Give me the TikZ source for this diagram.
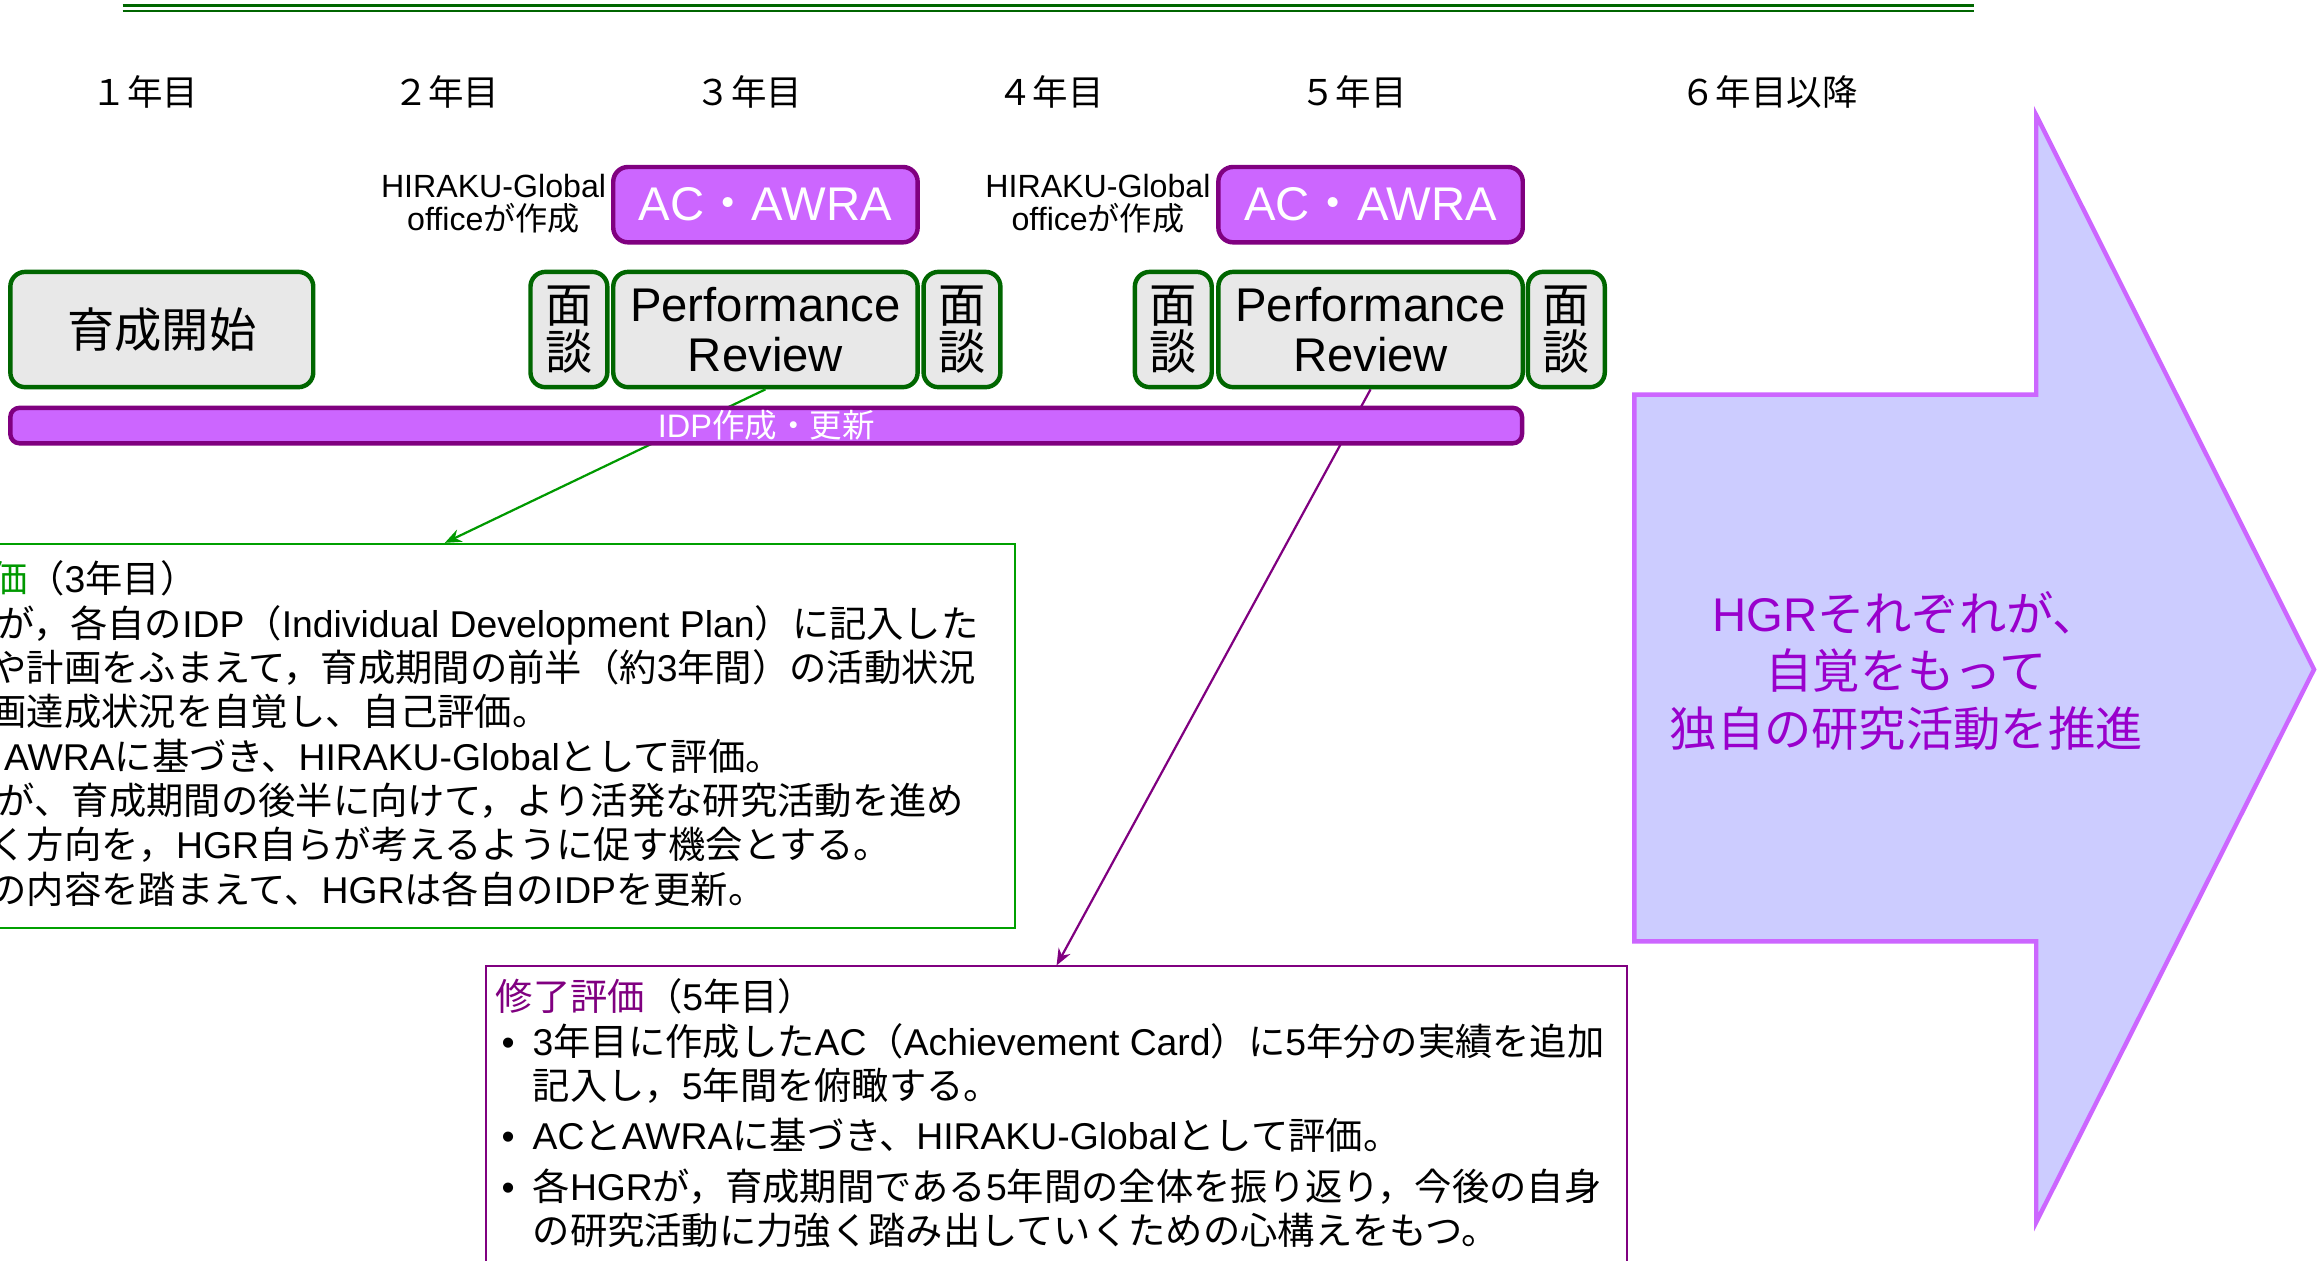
\documentclass[tikz,border=0pt]{standalone}
\usepackage{fontspec}
\setmainfont{Noto Sans CJK JP}
\newfontfamily\arfont{Liberation Sans}
\newcommand\ar[1]{{\arfont #1}}
\usetikzlibrary{arrows.meta}
\definecolor{dgreen}{HTML}{006600}
\definecolor{lgreen}{HTML}{00A000}
\definecolor{hgreen}{HTML}{009900}
\definecolor{vfill}{HTML}{CC66FF}
\definecolor{pborder}{HTML}{800080}
\definecolor{grayfill}{HTML}{E8E8E8}
\definecolor{arrfill}{HTML}{CCCCFF}
\definecolor{arrtext}{HTML}{9900CC}
\newcommand\bul{\makebox[10bp][l]{\hspace*{1.6bp}\ar{•}}}
\newcommand\ind{\hspace*{10bp}}
\begin{document}
\begin{tikzpicture}[x=0.4bp,y=-0.4bp,
  gbox/.style={draw=dgreen,line width=1.2bp,fill=grayfill,rounded corners=4bp,inner sep=0pt,align=center,minimum height=31.2bp},
  pbox/.style={draw=pborder,line width=1.2bp,fill=vfill,rounded corners=4bp,inner sep=0pt,text=white},
  yearlbl/.style={font=\fontsize{9.6bp}{11bp}\selectfont,inner sep=0pt},
  hglbl/.style={font=\fontsize{8.7bp}{8.8bp}\selectfont,align=center,inner sep=0pt},
  mendan/.style={gbox,minimum width=20.8bp,font=\fontsize{12.8bp}{12.8bp}\selectfont},
  prbox/.style={gbox,minimum width=82.4bp,font=\fontsize{12.8bp}{13.6bp}\selectfont\arfont},
  acbox/.style={pbox,minimum width=82.4bp,minimum height=20.4bp,font=\fontsize{12.8bp}{13bp}\selectfont},
  notebox/.style={draw,line width=0.5bp,fill=white,minimum width=308.8bp,inner sep=0pt},
  notetext/.style={font=\fontsize{10.1bp}{12bp}\selectfont,align=left,inner sep=0pt,anchor=north west},
  conn/.style={line width=0.6bp,-{Stealth[length=4.5bp,width=3.6bp]}}
]
\useasboundingbox (0,0) rectangle (1568,853);
\clip (0,0) rectangle (1568,853);
% top rule
\draw[dgreen,line width=0.8bp] (83,4) -- (1336,4);
\draw[dgreen,line width=0.6bp] (83,7.6) -- (1336,7.6);
% years
\node[yearlbl] (y1) at (98,62) {１年目};
\node[yearlbl] (y2) at (302,62) {２年目};
\node[yearlbl] (y3) at (507,62) {３年目};
\node[yearlbl] (y4) at (711,62) {４年目};
\node[yearlbl] (y5) at (916,62) {５年目};
\node[yearlbl] (y6) at (1197,62) {６年目以降};
% HIRAKU labels and AC boxes
\node[hglbl] (hg1) at (334,138) {\ar{HIRAKU-Global}\\\ar{office}が作成};
\node[hglbl] (hg2) at (743,138) {\ar{HIRAKU-Global}\\\ar{office}が作成};
\node[acbox] (ac1) at (518,138.5) {\ar{AC}・\ar{AWRA}};
\node[acbox] (ac2) at (927.5,138.5) {\ar{AC}・\ar{AWRA}};
% main row
\node[gbox,minimum width=82bp,font=\fontsize{12.8bp}{13bp}\selectfont] (start) at (109.5,223) {育成開始};
\node[mendan] (m1) at (385,223) {面\\談};
\node[prbox] (pr1) at (518,223) {Performance\\Review};
\node[mendan] (m2) at (651,223) {面\\談};
\node[mendan] (m3) at (794,223) {面\\談};
\node[prbox] (pr2) at (927.5,223) {Performance\\Review};
\node[mendan] (m4) at (1060,223) {面\\談};
% note boxes
\node[notebox,draw=lgreen,minimum height=104bp] (eval3) at (301,498) {};
\node[notetext] (eval3t) at (-83,379) {%
{\color{hgreen}中間評価}（\ar{3}年目）\\
\bul\ar{HGR}が，各自の\ar{IDP}（\ar{Individual Development Plan}）に記入した\\
\ind 目標や計画をふまえて，育成期間の前半（約\ar{3}年間）の活動状況\\
\ind や計画達成状況を自覚し、自己評価。\\
\bul\ar{AC}と\ar{AWRA}に基づき、\ar{HIRAKU-Global}として評価。\\
\bul\ar{HGR}が、育成期間の後半に向けて，より活発な研究活動を進め\\
\ind ていく方向を，\ar{HGR}自らが考えるように促す機会とする。\\
\bul 面談の内容を踏まえて、\ar{HGR}は各自の\ar{IDP}を更新。};
\node[notebox,draw=pborder,minimum height=81.6bp] (eval5) at (715,756) {};
\node[notetext] (eval5t) at (335,662) {%
{\color{pborder}修了評価}（\ar{5}年目）\\
\bul\ar{3}年目に作成した\ar{AC}（\ar{Achievement Card}）に\ar{5}年分の実績を追加\\
\ind 記入し，\ar{5}年間を俯瞰する。\\[1.6bp]
\bul\ar{AC}と\ar{AWRA}に基づき、\ar{HIRAKU-Global}として評価。\\[1.6bp]
\bul 各\ar{HGR}が，育成期間である\ar{5}年間の全体を振り返り，今後の自身\\
\ind の研究活動に力強く踏み出していくための心構えをもつ。};
% connectors
\draw[conn,draw=hgreen] (pr1.south) -- (eval3.north);
\draw[conn,draw=pborder] (pr2.south) -- (eval5.north);
% IDP bar
\node[pbox,minimum width=409.2bp,minimum height=9.6bp,rounded corners=2.5bp,font=\fontsize{8.8bp}{9bp}\selectfont] (idp) at (518.5,288) {\ar{IDP}作成・更新};
% big arrow
\draw[draw=vfill,fill=arrfill,line width=1.2bp,line join=miter]
  (1106,267) -- (1378,267) -- (1378,78) -- (1566,453) -- (1378,827) -- (1378,637) -- (1106,637) -- cycle;
\node[text=arrtext,align=center,font=\fontsize{12.8bp}{15.6bp}\selectfont,inner sep=0pt] (goal) at (1290,454)
  {\ar{HGR}それぞれが、\\自覚をもって\\独自の研究活動を推進};
\end{tikzpicture}
\end{document}
